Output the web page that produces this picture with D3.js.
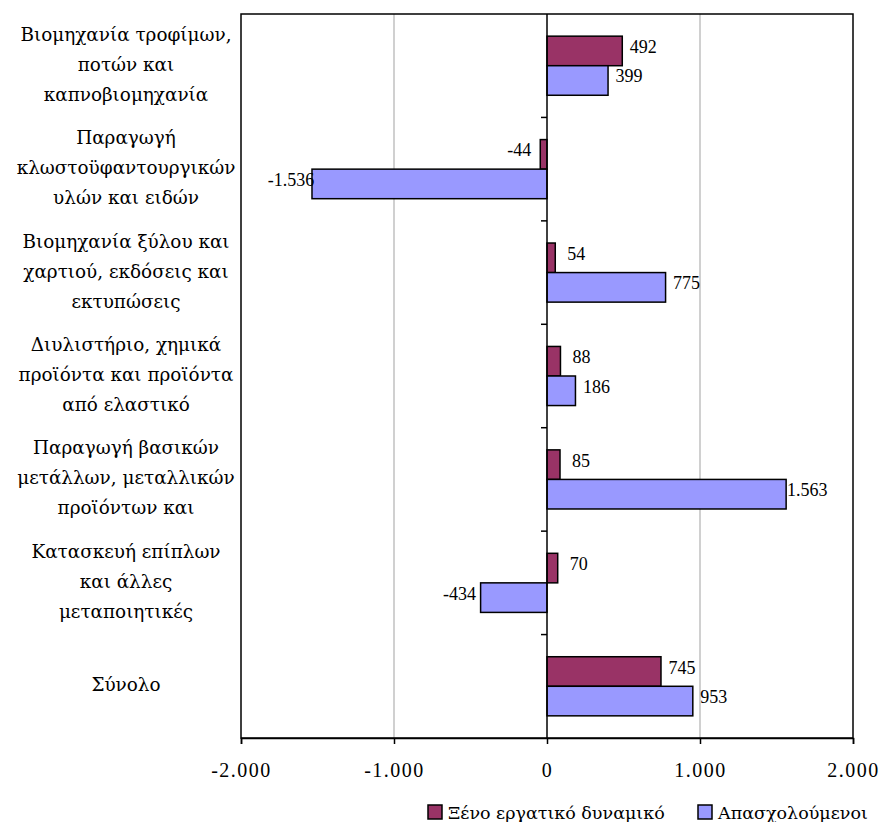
<!DOCTYPE html>
<html>
<head>
<meta charset="utf-8">
<script src="https://cdn.jsdelivr.net/npm/d3@7"></script>
<style>
  html, body { margin: 0; padding: 0; background: #fff; }
  svg { display: block; font-family: "Liberation Serif", "DejaVu Serif", serif; }
</style>
</head>
<body>
<svg id="chart" width="882" height="822"></svg>
<script>
// ---- data ----
const categories = [
  ["Βιομηχανία τροφίμων,", "ποτών και", "καπνοβιομηχανία"],
  ["Παραγωγή", "κλωστοϋφαντουργικών", "υλών και ειδών"],
  ["Βιομηχανία ξύλου και", "χαρτιού, εκδόσεις και", "εκτυπώσεις"],
  ["Διυλιστήριο, χημικά", "προϊόντα και προϊόντα", "από ελαστικό"],
  ["Παραγωγή βασικών", "μετάλλων, μεταλλικών", "προϊόντων και"],
  ["Κατασκευή επίπλων", "και άλλες", "μεταποιητικές"],
  ["Σύνολο"]
];
const seriesNames = ["Ξένο εργατικό δυναμικό", "Απασχολούμενοι"];
const foreignLabour = [492, -44, 54, 88, 85, 70, 745];
const employed = [399, -1536, 775, 186, 1563, -434, 953];
const xTicks = [-2000, -1000, 0, 1000, 2000];
const seriesColors = ["#993366", "#9999FF"];

// ---- setup ----
const locale = d3.formatLocale({decimal: ",", thousands: ".", grouping: [3], currency: ["", "€"], minus: "-"});
const fmt = locale.format(",d");

const svg = d3.select("#chart");
const L = 241, R = 853, T = 14, B = 738;

const catKeys = categories.map((c, i) => i);
const x = d3.scaleLinear().domain([-2000, 2000]).range([L, R]);
const y = d3.scaleBand().domain(catKeys).range([T, B]).paddingInner(0).paddingOuter(0);
const ySub = d3.scaleBand().domain([0, 1]).range([0, y.bandwidth()]).paddingInner(0).paddingOuter(0.75);

const seriesData = [foreignLabour, employed];

// gridlines
svg.append("g").selectAll("line")
  .data(xTicks.filter(v => v !== 0 && Math.abs(v) !== 2000))
  .join("line")
  .attr("x1", d => x(d)).attr("x2", d => x(d))
  .attr("y1", T).attr("y2", B)
  .attr("stroke", "#c0c0c0").attr("stroke-width", 1.5);

// bars
const rows = [];
catKeys.forEach(ci => {
  seriesData.forEach((s, si) => rows.push({ci, si, v: s[ci]}));
});

svg.append("g").selectAll("rect")
  .data(rows)
  .join("rect")
  .attr("x", d => Math.min(x(0), x(d.v)))
  .attr("width", d => Math.abs(x(d.v) - x(0)))
  .attr("y", d => y(d.ci) + ySub(d.si))
  .attr("height", ySub.bandwidth())
  .attr("fill", d => seriesColors[d.si])
  .attr("stroke", "#000").attr("stroke-width", 1.5);

// zero axis line
svg.append("line")
  .attr("x1", x(0)).attr("x2", x(0)).attr("y1", T).attr("y2", B)
  .attr("stroke", "#000").attr("stroke-width", 1.5);

// category tick marks on zero axis
svg.append("g").selectAll("line")
  .data(catKeys.slice(1))
  .join("line")
  .attr("x1", x(0) - 6).attr("x2", x(0))
  .attr("y1", d => y(d)).attr("y2", d => y(d))
  .attr("stroke", "#000").attr("stroke-width", 1.5);

// frame
svg.append("rect")
  .attr("x", L).attr("y", T).attr("width", R - L).attr("height", B - T)
  .attr("fill", "none").attr("stroke", "#000").attr("stroke-width", 1.5);

// bottom axis
const xAxis = svg.append("g")
  .attr("transform", `translate(0,${B})`)
  .call(d3.axisBottom(x).tickValues(xTicks).tickFormat(fmt).tickSize(6).tickPadding(19));
xAxis.select(".domain").attr("stroke", "#000").attr("stroke-width", 1.5);
xAxis.selectAll(".tick line").attr("stroke", "#000").attr("stroke-width", 1.5);
xAxis.selectAll(".tick text")
  .attr("fill", "#000")
  .style("font-family", '"Liberation Serif", "DejaVu Serif", serif')
  .style("font-size", "20px")
  .style("letter-spacing", "1.5px");

// data labels
svg.append("g").selectAll("text")
  .data(rows)
  .join("text")
  .attr("x", d => x(d.v) + (d.v >= 0 ? 21 : -21))
  .attr("y", d => y(d.ci) + ySub(d.si) + ySub.bandwidth() / 2 + 2)
  .attr("text-anchor", "middle")
  .style("font-size", "18px")
  .attr("fill", "#000")
  .text(d => fmt(d.v));

// category labels
const greekFont = '"DejaVu Serif", "Liberation Serif", serif';
const catG = svg.append("g").selectAll("text")
  .data(categories)
  .join("text")
  .attr("text-anchor", "middle")
  .style("font-family", greekFont)
  .style("font-size", "18.4px")
  .attr("fill", "#000");
catG.each(function(lines, i) {
  const cy = y(i) + y.bandwidth() / 2;
  const n = lines.length;
  d3.select(this).selectAll("tspan")
    .data(lines)
    .join("tspan")
    .attr("x", 126)
    .attr("y", (d, j) => cy + (j - (n - 1) / 2) * 30 + 5)
    .text(d => d);
});

// legend
const legendX = [428, 698];
const lg = svg.append("g").selectAll("g")
  .data(seriesNames)
  .join("g")
  .attr("transform", (d, i) => `translate(${legendX[i]},805)`);
lg.append("rect")
  .attr("width", 14).attr("height", 14)
  .attr("fill", (d, i) => seriesColors[i])
  .attr("stroke", "#000").attr("stroke-width", 1.5);
lg.append("text")
  .attr("x", 20).attr("y", 14)
  .style("font-family", greekFont)
  .style("font-size", "17.5px")
  .attr("fill", "#000")
  .text(d => d);
</script>
</body>
</html>
